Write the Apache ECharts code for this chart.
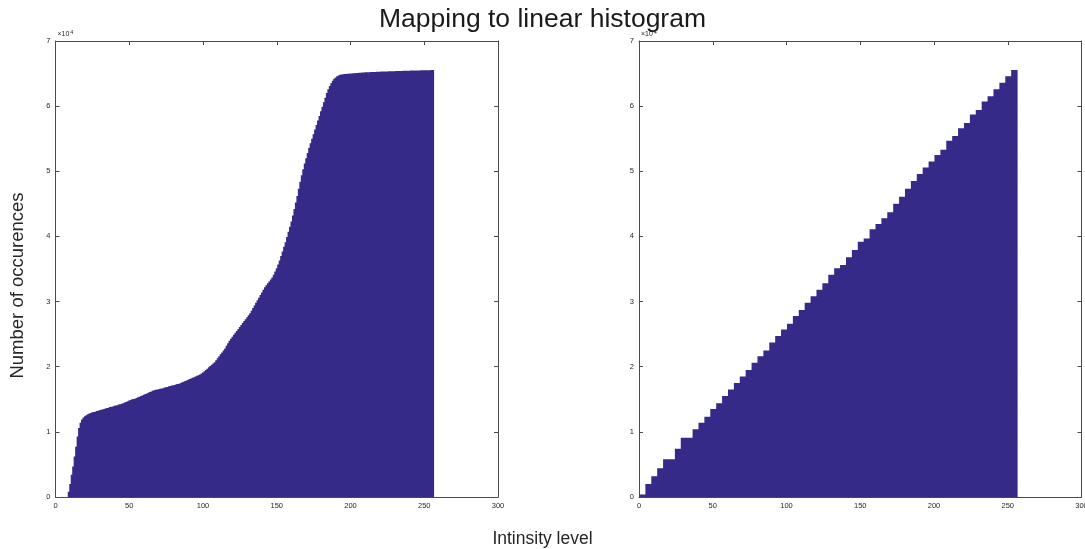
<!DOCTYPE html>
<html>
<head>
<meta charset="utf-8">
<script src="https://cdn.jsdelivr.net/npm/echarts@6/dist/echarts.min.js"></script>
<style>
html,body{margin:0;padding:0;background:#fff;}
#chart{width:1085px;height:549px;}
</style>
</head>
<body>
<div id="chart"></div>
<script>
// Intensity levels (bar positions)
const levels = [];
for (let k = 1; k <= 256; k++) levels.push(k);

// Left panel: cumulative histogram of original image (counts), level 1..256
const leftCounts = [
  0,0,0,0,0,0,0,0,800,2000,
  3400,4700,6200,7700,9300,10600,11400,11900,12200,12400,
  12550,12700,12800,12900,13000,13050,13100,13200,13250,13300,
  13400,13450,13500,13600,13650,13700,13800,13850,13900,14000,
  14050,14100,14200,14250,14300,14400,14500,14600,14700,14800,
  14900,15000,15050,15100,15200,15300,15400,15500,15600,15700,
  15800,15900,16000,16100,16200,16300,16400,16450,16500,16550,
  16600,16650,16700,16800,16850,16900,17000,17050,17100,17150,
  17200,17300,17350,17400,17500,17600,17700,17800,17900,18000,
  18100,18200,18300,18400,18500,18600,18700,18800,18950,19100,
  19300,19500,19700,19900,20100,20300,20500,20700,21000,21300,
  21600,21900,22200,22500,22800,23200,23600,24000,24300,24600,
  24900,25200,25500,25800,26100,26400,26700,27000,27300,27600,
  27900,28200,28600,29000,29400,29800,30200,30600,31000,31400,
  31800,32200,32500,32800,33100,33400,33700,34100,34600,35100,
  35700,36300,37000,37700,38400,39100,39900,40700,41500,42300,
  43200,44200,45200,46200,47300,48400,49400,50300,51200,52000,
  52800,53600,54300,55000,55700,56400,57100,57800,58500,59200,
  59900,60600,61300,62000,62600,63100,63500,63900,64200,64400,
  64600,64700,64800,64850,64900,64920,64940,64960,64980,65000,
  65020,65040,65060,65080,65100,65120,65140,65160,65175,65190,
  65200,65210,65220,65230,65240,65250,65260,65270,65280,65290,
  65300,65310,65318,65326,65334,65342,65350,65358,65366,65374,
  65382,65390,65397,65404,65411,65418,65425,65432,65439,65446,
  65453,65460,65466,65472,65478,65484,65490,65496,65502,65508,
  65513,65518,65523,65528,65532,65536
];

// Right panel: cumulative histogram after mapping (counts), level 1..256
const rightCounts = [
  400,400,400,400, 2000,2000,2000,2000, 3200,3200,3200,3200, 4400,4400,4400,4400,
  5800,5800,5800,5800, 5800,5800,5800,5800, 7400,7400,7400,7400, 9100,9100,9100,9100,
  9100,9100,9100,9100, 10400,10400,10400,10400, 11400,11400,11400,11400, 12300,12300,12300,12300,
  13500,13500,13500,13500, 14400,14400,14400,14400, 15500,15500,15500,15500, 16500,16500,16500,16500,
  17500,17500,17500,17500, 18500,18500,18500,18500, 19500,19500,19500,19500, 20600,20600,20600,20600,
  21600,21600,21600,21600, 22500,22500,22500,22500, 23700,23700,23700,23700, 24700,24700,24700,24700,
  25700,25700,25700,25700, 26600,26600,26600,26600, 27800,27800,27800,27800, 28700,28700,28700,28700,
  29800,29800,29800,29800, 30800,30800,30800,30800, 31800,31800,31800,31800, 32800,32800,32800,32800,
  34100,34100,34100,34100, 35100,35100,35100,35100, 35600,35600,35600,35600, 36800,36800,36800,36800,
  37900,37900,37900,37900, 39200,39200,39200,39200, 39700,39700,39700,39700, 41100,41100,41100,41100,
  41900,41900,41900,41900, 42800,42800,42800,42800, 43700,43700,43700,43700, 45000,45000,45000,45000,
  46100,46100,46100,46100, 47300,47300,47300,47300, 48500,48500,48500,48500, 49600,49600,49600,49600,
  50600,50600,50600,50600, 51500,51500,51500,51500, 52500,52500,52500,52500, 53300,53300,53300,53300,
  54700,54700,54700,54700, 55400,55400,55400,55400, 56600,56600,56600,56600, 57400,57400,57400,57400,
  58700,58700,58700,58700, 59400,59400,59400,59400, 60700,60700,60700,60700, 61500,61500,61500,61500,
  62600,62600,62600,62600, 63600,63600,63600,63600, 64600,64600,64600,64600, 65536,65536,65536,65536
];

const xTicks = [0, 50, 100, 150, 200, 250, 300];
const yTicks = [0, 1, 2, 3, 4, 5, 6, 7]; // x 10^4

const FONT = "'Liberation Sans', Helvetica, Arial, sans-serif";
const TXT = '#262626';
const LINE = '#4a4a4a';
const BAR = '#352A87';

function xAx(grid, pos, showLabel) {
  return {
    type: 'value', gridIndex: grid, position: pos, min: xTicks[0], max: xTicks[xTicks.length - 1], interval: 50,
    axisLine: { show: true, onZero: false, lineStyle: { color: LINE, width: 1 } },
    axisTick: { show: true, inside: true, length: 4, lineStyle: { color: LINE, width: 1 } },
    axisLabel: { show: showLabel, fontSize: 7.5, color: TXT, fontFamily: FONT, margin: 5, hideOverlap: false },
    splitLine: { show: false }
  };
}
function yAx(grid, pos, showLabel) {
  const a = {
    type: 'value', gridIndex: grid, position: pos, min: 0, max: 70000, interval: 10000,
    axisLine: { show: true, onZero: false, lineStyle: { color: LINE, width: 1 } },
    axisTick: { show: true, inside: true, length: 4, lineStyle: { color: LINE, width: 1 } },
    axisLabel: { show: showLabel, fontSize: 7.5, color: TXT, fontFamily: FONT, margin: 5,
      formatter: v => String(v / 10000) },
    splitLine: { show: false }
  };
  if (showLabel) {
    a.name = '{a|×10}{b|4}';
    a.nameLocation = 'end';
    a.nameGap = 1;
    a.nameTextStyle = {
      align: 'left', verticalAlign: 'bottom', padding: [0, 0, 0, 2],
      rich: {
        a: { fontSize: 7, color: TXT, fontFamily: FONT },
        b: { fontSize: 5.5, color: TXT, fontFamily: FONT, padding: [0, 0, 5, 1] }
      }
    };
  }
  return a;
}

const chart = echarts.init(document.getElementById('chart'), null, { renderer: 'canvas' });
chart.setOption({
  animation: false,
  backgroundColor: '#ffffff',
  title: [
    { text: 'Mapping to linear histogram', left: 'center', top: 1,
      textStyle: { fontSize: 26.5, fontWeight: 'normal', color: '#1a1a1a', fontFamily: FONT } },
    { text: 'Intinsity level', left: 'center', top: 525,
      textStyle: { fontSize: 17.5, fontWeight: 'normal', color: TXT, fontFamily: FONT } }
  ],
  graphic: [
    { type: 'text', x: 18, y: 285.5, rotation: Math.PI / 2,
      style: { text: 'Number of occurences', fontSize: 18.5, fontFamily: FONT, fill: TXT,
        textAlign: 'center', textVerticalAlign: 'middle', align: 'center', verticalAlign: 'middle' } }
  ],
  grid: [
    { left: 55.5, top: 41, width: 442.5, height: 456, containLabel: false, outerBoundsMode: 'none' },
    { left: 639, top: 41, width: 442.5, height: 456, containLabel: false, outerBoundsMode: 'none' }
  ],
  xAxis: [xAx(0, 'bottom', true), xAx(0, 'top', false), xAx(1, 'bottom', true), xAx(1, 'top', false)],
  yAxis: [yAx(0, 'left', true), yAx(0, 'right', false), yAx(1, 'left', true), yAx(1, 'right', false)],
  series: [
    { type: 'bar', xAxisIndex: 0, yAxisIndex: 0, barWidth: 2, large: true, largeThreshold: 50,
      data: levels.map((x, i) => [x, leftCounts[i]]),
      itemStyle: { color: BAR, borderWidth: 0, opacity: 1 }, silent: true, z: 1 },
    { type: 'bar', xAxisIndex: 2, yAxisIndex: 2, barWidth: 2, large: true, largeThreshold: 50,
      data: levels.map((x, i) => [x, rightCounts[i]]),
      itemStyle: { color: BAR, borderWidth: 0, opacity: 1 }, silent: true, z: 1 }
  ]
});
</script>
</body>
</html>
